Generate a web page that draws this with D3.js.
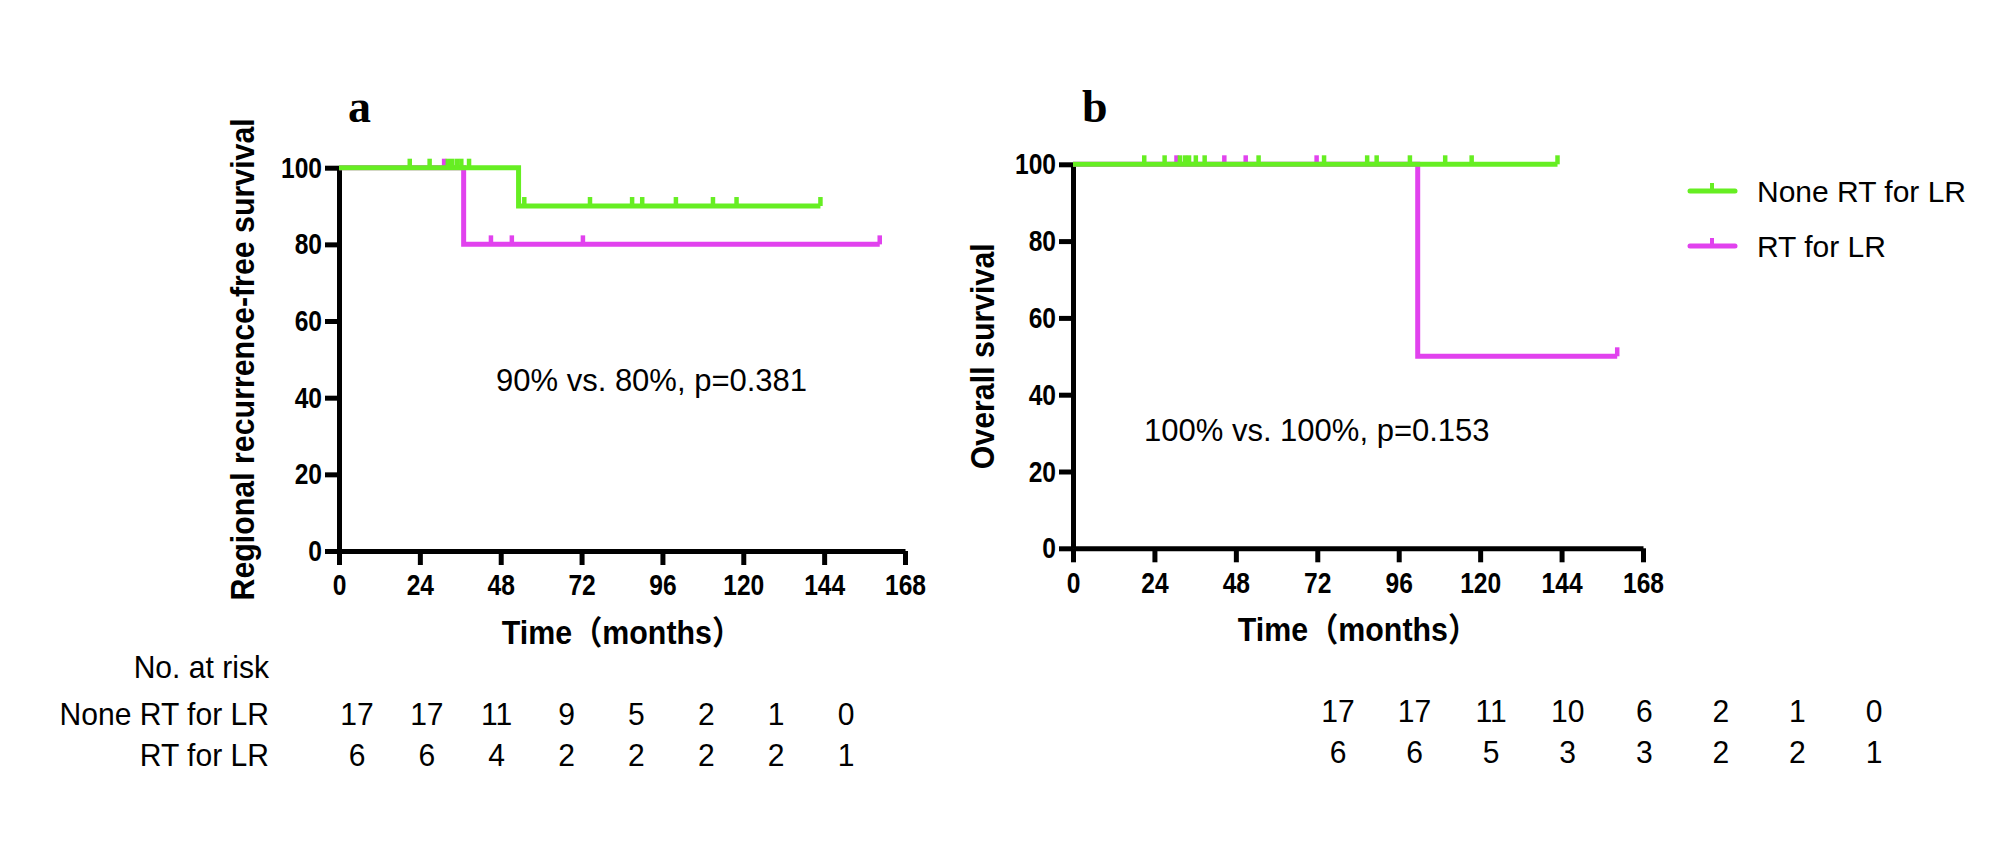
<!DOCTYPE html>
<html>
<head>
<meta charset="utf-8">
<script src="https://cdn.jsdelivr.net/npm/d3@7"></script>
<style>
  body { margin: 0; background: #fff; }
  text { font-family: "Liberation Sans", Arial, "Noto Sans CJK SC", sans-serif; fill: #000; }
</style>
</head>
<body>
<svg id="chart" width="2008" height="858"></svg>
<script>
// shared axis ticks
const timeTicks = [0, 24, 48, 72, 96, 120, 144, 168];
const survTicks = [0, 20, 40, 60, 80, 100];
const groups = ["None RT for LR", "RT for LR"];
const groupColors = ["#66ee22", "#e142ee"];

// panel a: regional recurrence-free survival (step points + censor times, months)
const rfsNoneSteps = [[0, 100], [53.3, 90], [142.9, 90]];
const rfsNoneCensored = [21, 26.9, 32.3, 33.6, 35, 36.3, 38.6, 55, 74.5, 87, 90, 100, 111, 118, 142.9];
const rfsRtSteps = [[0, 100], [37, 80], [160.5, 80]];
const rfsRtCensored = [31.2, 45.1, 51.3, 72.4, 160.5];
const rfsAtRiskNone = [17, 17, 11, 9, 5, 2, 1, 0];
const rfsAtRiskRt = [6, 6, 4, 2, 2, 2, 2, 1];

// panel b: overall survival
const osNoneSteps = [[0, 100], [142.8, 100]];
const osNoneCensored = [21, 27, 31.5, 33, 34.2, 36.2, 38.8, 54.7, 74, 86.7, 89.5, 99.3, 109.7, 117.5, 142.8];
const osRtSteps = [[0, 100], [101.6, 50], [160.4, 50]];
const osRtCensored = [30.5, 44.6, 50.9, 71.8, 160.4];
const osAtRiskNone = [17, 17, 11, 10, 6, 2, 1, 0];
const osAtRiskRt = [6, 6, 5, 3, 3, 2, 2, 1];

const panels = [
  {
    label: "a", yTitle: "Regional recurrence-free survival", note: "90% vs. 80%, p=0.381",
    series: [[rfsNoneSteps, rfsNoneCensored], [rfsRtSteps, rfsRtCensored]],
    atRisk: [rfsAtRiskNone, rfsAtRiskRt],
    x0: 339, x1: 905, yTop: 167.7, yBot: 551,
    labelX: 348, titleX: 254, noteX: 496, noteY: 391,
    riskX: [357, 846], riskY: [725, 766]
  },
  {
    label: "b", yTitle: "Overall survival", note: "100% vs. 100%, p=0.153",
    series: [[osNoneSteps, osNoneCensored], [osRtSteps, osRtCensored]],
    atRisk: [osAtRiskNone, osAtRiskRt],
    x0: 1073, x1: 1643, yTop: 164.3, yBot: 548.3,
    labelX: 1082, titleX: 994, noteX: 1144, noteY: 441,
    riskX: [1338, 1874], riskY: [722, 763]
  }
];

// narrow fonts are faked by squeezing the glyphs horizontally
const tickSx = 0.82, titleSx = 0.92, tableSx = 0.94;

const svg = d3.select("#chart");

// survival value at time t for a step series
function stepValue(steps, t) {
  let v = steps[0][1];
  steps.forEach(s => { if (s[0] <= t) v = s[1]; });
  return v;
}

panels.forEach(p => {
  const x = d3.scaleLinear().domain([0, 168]).range([p.x0, p.x1]);
  const y = d3.scaleLinear().domain([0, 100]).range([p.yBot, p.yTop]);
  const g = svg.append("g");

  // axes
  const xAxis = g.append("g")
    .attr("transform", `translate(0,${p.yBot})`)
    .call(d3.axisBottom(x).tickValues(timeTicks).tickSize(14).tickSizeOuter(0).tickPadding(9));
  const yAxis = g.append("g")
    .attr("transform", `translate(${p.x0},0)`)
    .call(d3.axisLeft(y).tickValues(survTicks).tickSize(14).tickSizeOuter(0).tickPadding(3));
  [xAxis, yAxis].forEach(a => {
    a.select(".domain").attr("stroke", "#000").attr("stroke-width", 5);
    a.selectAll(".tick line").attr("stroke", "#000").attr("stroke-width", 5);
    a.selectAll(".tick text")
      .style("font-size", "30px").style("font-weight", "bold").attr("fill", "#000")
      .attr("x", function() { return (+d3.select(this).attr("x") || 0) / tickSx; })
      .attr("transform", `scale(${tickSx},1)`);
  });

  // axis titles
  g.append("text")
    .attr("transform", `translate(${p.titleX},${(p.yTop + p.yBot) / 2}) rotate(-90) scale(${titleSx},1)`)
    .attr("text-anchor", "middle")
    .style("font-size", "33px").style("font-weight", "bold")
    .text(p.yTitle);
  g.append("text")
    .attr("transform", `translate(${(p.x0 + p.x1) / 2},${p.yBot + 93}) scale(${titleSx},1)`)
    .attr("text-anchor", "middle")
    .style("font-size", "33px").style("font-weight", "bold")
    .text("Time（months）");

  // panel letter
  g.append("text")
    .attr("x", p.labelX).attr("y", 122)
    .style("font-family", "'Liberation Serif', 'Times New Roman', serif")
    .style("font-size", "46px").style("font-weight", "bold")
    .text(p.label);

  // curves: draw RT first so the None group sits on top
  const line = d3.line().x(d => x(d[0])).y(d => y(d[1])).curve(d3.curveStepAfter);
  [1, 0].forEach(i => {
    const [steps, cens] = p.series[i];
    g.append("path")
      .attr("d", line(steps))
      .attr("fill", "none")
      .attr("stroke", groupColors[i])
      .attr("stroke-width", 5);
    g.selectAll(null)
      .data(cens)
      .enter()
      .append("line")
      .attr("x1", d => x(d)).attr("x2", d => x(d))
      .attr("y1", d => y(stepValue(steps, d)))
      .attr("y2", d => y(stepValue(steps, d)) - 9)
      .attr("stroke", groupColors[i])
      .attr("stroke-width", 4.5);
  });

  // annotation
  g.append("text")
    .attr("x", p.noteX).attr("y", p.noteY)
    .style("font-size", "31px")
    .text(p.note);

  // numbers at risk
  const cx = d3.scalePoint().domain(timeTicks).range(p.riskX);
  p.atRisk.forEach((row, r) => {
    g.selectAll(null)
      .data(row)
      .enter()
      .append("text")
      .attr("transform", (d, i) => `translate(${cx(timeTicks[i])},${p.riskY[r]}) scale(${tableSx},1)`)
      .attr("text-anchor", "middle")
      .style("font-size", "32px")
      .text(d => d);
  });
});

// row labels for the at-risk table
const rowLabels = ["No. at risk"].concat(groups);
const rowY = [678, 725, 766];
svg.selectAll(null)
  .data(rowLabels)
  .enter()
  .append("text")
  .attr("transform", (d, i) => `translate(269,${rowY[i]}) scale(${tableSx},1)`)
  .attr("text-anchor", "end")
  .style("font-size", "32px")
  .text(d => d);

// legend
const legend = svg.append("g").attr("transform", "translate(1690,191)");
groups.forEach((name, i) => {
  const row = legend.append("g").attr("transform", `translate(0,${i * 55})`);
  row.append("line")
    .attr("x1", 0).attr("x2", 45).attr("y1", 0).attr("y2", 0)
    .attr("stroke", groupColors[i]).attr("stroke-width", 5).attr("stroke-linecap", "round");
  row.append("line")
    .attr("x1", 22).attr("x2", 22).attr("y1", 0).attr("y2", -8)
    .attr("stroke", groupColors[i]).attr("stroke-width", 4);
  row.append("text")
    .attr("x", 67).attr("y", 11)
    .style("font-size", "30px")
    .text(name);
});
</script>
</body>
</html>
